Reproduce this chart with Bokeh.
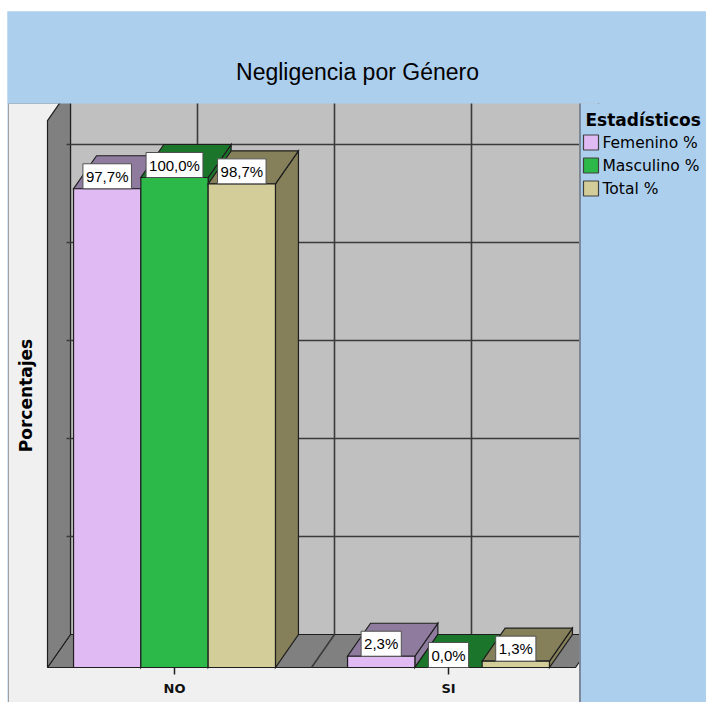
import numpy as np
from bokeh.plotting import figure
from bokeh.models import Range1d
from bokeh.core.properties import value
from bokeh.embed import file_html
from bokeh.resources import INLINE

# ---- data ----
categories = ["NO", "SI"]
series = ["Femenino %", "Masculino %", "Total %"]
femenino = [97.7, 2.3]
masculino = [100.0, 0.0]
total = [98.7, 1.3]
y_ticks = [0, 20, 40, 60, 80, 100]

values = [femenino, masculino, total]

# ---- style ----
front_colors = ["#dfbaf3", "#2db84a", "#d3ce99"]
shade_colors = ["#8f7b9e", "#1b762c", "#85805a"]
BLUE = "#accfee"
PANEL = "#f0f0f0"
WALL = "#c0c0c0"
FLOOR = "#808080"
EDGE = "#1e1e1e"
GRID = "#3a3a3a"
FONT = value("DejaVu Sans")
LABEL_FONT = value("Liberation Sans")

# ---- layout (pixels) ----
W, H = 706, 702
CAT0_PX, CAT_PX = 174, 274        # screen x of first category, px per category
BASE_PX, PCT_PX = 667, 4.9        # screen y of 0 %, px per percent
DEPTH_X_PX, DEPTH_Y_PX = 23, 33   # oblique depth offset
BAR_PX = 67.3
Y_MAX = 111.6

dx = DEPTH_X_PX / CAT_PX
dy = DEPTH_Y_PX / PCT_PX
bw = BAR_PX / CAT_PX
cat_x = np.arange(1, len(categories) + 1, dtype=float)
x_lo = 0.5 + 10 / CAT_PX
x_hi = len(categories) + 0.5 - 10 / CAT_PX

p = figure(
    width=W, height=H,
    x_range=Range1d(1 - CAT0_PX / CAT_PX, 1 + (W - CAT0_PX) / CAT_PX),
    y_range=Range1d(-(H - BASE_PX) / PCT_PX, BASE_PX / PCT_PX),
    output_backend="svg", toolbar_location=None,
    x_axis_location=None, y_axis_location=None,
    min_border=0, background_fill_color="white", border_fill_color="white",
    outline_line_color=None,
)
p.grid.visible = False
p.extra_x_ranges = {"px": Range1d(0, W)}
p.extra_y_ranges = {"px": Range1d(H, 0)}
PX = dict(x_range_name="px", y_range_name="px")

# page background and chart panel
p.quad(left=7, right=W, top=11, bottom=H, fill_color=BLUE, line_color=None, **PX)
p.quad(left=8, right=580, top=103, bottom=H, fill_color=PANEL,
       line_color="#a0a0a0", line_width=1, **PX)

# back wall, floor and left wall
p.quad(left=x_lo + dx, right=x_hi + dx, bottom=dy, top=Y_MAX + dy,
       fill_color=WALL, line_color=EDGE, line_width=1.2)
p.patch([x_lo, x_hi, x_hi + dx, x_lo + dx], [0, 0, dy, dy],
        fill_color=FLOOR, line_color=EDGE, line_width=1.2)
p.patch([x_lo, x_lo, x_lo + dx, x_lo + dx], [0, Y_MAX, Y_MAX + dy, dy],
        fill_color=FLOOR, line_color=EDGE, line_width=1.2)

# gridlines on the back wall (with small ticks at the corner) and the floor
tick_len = 4 / CAT_PX
grid_xs, grid_ys = [], []
for t in y_ticks[1:]:
    grid_xs.append([x_lo + dx - tick_len, x_hi + dx])
    grid_ys.append([t + dy, t + dy])
for gx in np.concatenate([cat_x, cat_x[:-1] + 0.5]):
    grid_xs.append([gx + dx, gx + dx])
    grid_ys.append([dy, Y_MAX + dy])
    grid_xs.append([gx, gx + dx])
    grid_ys.append([0, dy])
p.multi_line(grid_xs, grid_ys, line_color=GRID, line_width=1.6)

# 3D bars: side, top and front faces, painted left to right
xs, ys, fills = [], [], []
lab_x, lab_y, lab_t = [], [], []
for ci, cx in enumerate(cat_x):
    for si, vals in enumerate(values):
        v = vals[ci]
        x0 = cx - 1.5 * bw + si * bw
        x1 = x0 + bw
        xs.append([x1, x1, x1 + dx, x1 + dx]); ys.append([0, v, v + dy, dy])
        fills.append(shade_colors[si])
        xs.append([x0, x1, x1 + dx, x0 + dx]); ys.append([v, v, v + dy, v + dy])
        fills.append(shade_colors[si])
        xs.append([x0, x1, x1, x0]); ys.append([0, 0, v, v])
        fills.append(front_colors[si])
        lab_x.append((x0 + x1) / 2)
        lab_y.append(v)
        lab_t.append(f"{v:.1f}".replace(".", ",") + "%")
p.patches(xs=xs, ys=ys, fill_color=fills, line_color=EDGE, line_width=1.2,
          line_join="miter")

# value labels
p.text(x=lab_x, y=lab_y, text=lab_t, text_align="center", text_baseline="bottom",
       text_font=LABEL_FONT, text_font_size="15px", text_color="black",
       background_fill_color="white", border_line_color="#505050",
       border_line_width=1, padding=(3, 4))

# clip the 3D box to the panel
p.quad(left=7, right=W, top=11, bottom=103, fill_color=BLUE, line_color=None, **PX)
p.quad(left=580, right=W, top=103, bottom=H, fill_color=BLUE, line_color=None, **PX)
p.segment(x0=579.5, y0=103, x1=579.5, y1=H, line_color="#7d8896", line_width=2, **PX)

# category axis
p.segment(x0=cat_x, y0=[0] * len(cat_x), x1=cat_x, y1=[-7 / PCT_PX] * len(cat_x),
          line_color=EDGE, line_width=1.5)
p.text(x=cat_x, y=[-21 / PCT_PX] * len(cat_x), text=categories,
       text_align="center", text_baseline="middle", text_font=FONT,
       text_font_size="13px", text_font_style="bold", text_color="#111111")

# titles
p.text(x=[357], y=[71], text=["Negligencia por Género"], text_align="center",
       text_baseline="middle", text_font=LABEL_FONT, text_font_size="23px",
       text_color="black", **PX)
p.text(x=[25], y=[395], text=["Porcentajes"], angle=np.pi / 2,
       text_align="center", text_baseline="middle", text_font=FONT,
       text_font_size="17px", text_font_style="bold", text_color="black", **PX)

# legend
p.text(x=[585], y=[119], text=["Estadísticos"], text_align="left",
       text_baseline="middle", text_font=FONT, text_font_size="17px",
       text_font_style="bold", text_color="black", **PX)
row_y = [142 + 23 * i for i in range(len(series))]
p.quad(left=[583] * len(series), right=[598] * len(series),
       top=[r - 7.5 for r in row_y], bottom=[r + 7.5 for r in row_y],
       fill_color=front_colors, line_color="#404040", line_width=1.2, **PX)
p.text(x=[602] * len(series), y=row_y, text=series, text_align="left",
       text_baseline="middle", text_font=FONT, text_font_size="15.5px",
       text_color="black", **PX)

open("out.html", "w").write(file_html(p, INLINE))
